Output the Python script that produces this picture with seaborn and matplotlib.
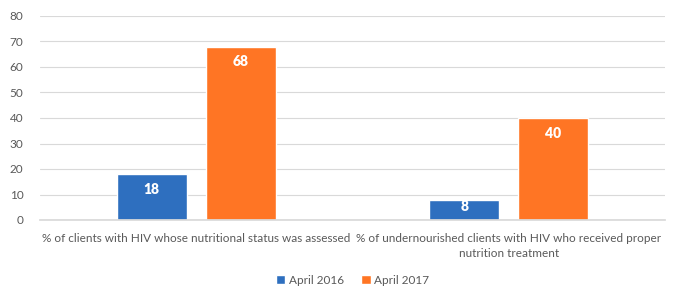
import matplotlib
matplotlib.use("Agg")
import matplotlib.pyplot as plt
import seaborn as sns
import pandas as pd

categories = ["% of clients with HIV whose nutritional status was assessed",
              "% of undernourished clients with HIV who received proper\nnutrition treatment"]
series = ["April 2016", "April 2017"]
values_2016 = [18, 8]
values_2017 = [68, 40]
colors = ["#2E6FBF", "#FF7524"]

df = pd.DataFrame({
    "cat": categories * 2,
    "series": [series[0]] * 2 + [series[1]] * 2,
    "value": values_2016 + values_2017,
})

sns.set_theme(style="white")
plt.rcParams["font.family"] = ["Lato", "DejaVu Sans"]

fig = plt.figure(figsize=(6.82, 2.93), dpi=100)
ax = fig.add_axes([40/682, 1-220/293, 625/682, 204/293])

sns.barplot(data=df, x="cat", y="value", hue="series", palette=colors,
            width=0.57, gap=0.21, ax=ax, saturation=1, legend=True)

ax.set_ylim(0, 80)
ax.set_yticks(range(0, 81, 10))
ax.yaxis.grid(True, color="#D9D9D9", linewidth=0.8)
ax.set_axisbelow(True)
for s in ["top", "right", "left"]:
    ax.spines[s].set_visible(False)
ax.spines["bottom"].set_color("#D9D9D9")
ax.set_xlabel("")
ax.set_ylabel("")
ax.tick_params(axis="both", length=0, labelsize=8.5, colors="#595959")
ax.tick_params(axis="y", pad=12)
ax.tick_params(axis="x", pad=9)
for lbl in ax.get_xticklabels():
    lbl.set_linespacing(1.55)

for cont in ax.containers:
    for bar in cont:
        h = bar.get_height()
        y = h - 5.9 if h > 15 else h - 2.7
        ax.text(bar.get_x() + bar.get_width() / 2, y, f"{h:.0f}", ha="center",
                va="center", color="white", fontsize=10, fontweight="heavy")

ax.legend(loc="center", bbox_to_anchor=(0.5, -0.295), ncol=2, frameon=False,
          fontsize=8.5, handlelength=0.8, handleheight=0.8, handletextpad=0.3,
          columnspacing=1.5, labelcolor="#595959")

fig.savefig("out.png", dpi=100)
